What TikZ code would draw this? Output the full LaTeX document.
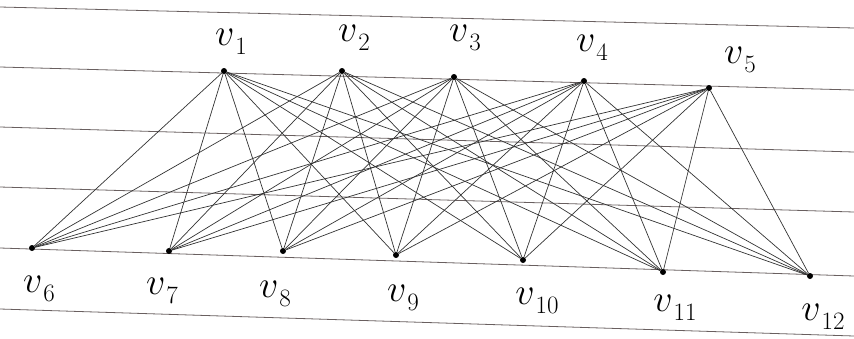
\RequirePackage{fix-cm}
\documentclass[tikz,border=0pt]{standalone}
\newcommand\vlab[1]{{\fontsize{38}{38}\selectfont$v$}\kern1pt\raisebox{-9pt}{\fontsize{25}{25}\selectfont #1}}
\begin{document}
\begin{tikzpicture}[x=1pt,y=-1pt,
  rule/.style={draw={rgb,255:red,105;green,95;blue,95},line width=0.8pt},
  vtx/.style={circle,fill=black,inner sep=0pt,minimum size=6pt},
  edge/.style={draw=black!80,line width=0.7pt},
  lab/.style={inner sep=0pt}]
\useasboundingbox (0,0) rectangle (854,338);
% ruled lines
\foreach \a/\b in {7/28,67/90,127/152,187/212,248/276,309/336}
  \draw[rule] (0,\a) -- (854,\b);
% vertices
\node[vtx] (v1) at (224,71) {};
\node[vtx] (v2) at (342,71) {};
\node[vtx] (v3) at (454,77) {};
\node[vtx] (v4) at (584,81) {};
\node[vtx] (v5) at (709,88) {};
\node[vtx] (v6) at (32,248) {};
\node[vtx] (v7) at (169,251) {};
\node[vtx] (v8) at (283,251) {};
\node[vtx] (v9) at (396,255) {};
\node[vtx] (v10) at (523,260) {};
\node[vtx] (v11) at (663,272) {};
\node[vtx] (v12) at (810,276) {};
% edges
\foreach \t in {1,...,5}
  \foreach \b in {6,...,12}
    \draw[edge] (v\t) -- (v\b);
% labels
\node[lab] (l1) at (231,42) {\vlab{1}};
\node[lab] (l2) at (354,38) {\vlab{2}};
\node[lab] (l3) at (465,38) {\vlab{3}};
\node[lab] (l4) at (592,48) {\vlab{4}};
\node[lab] (l5) at (740,60) {\vlab{5}};
\node[lab] (l6) at (39,289) {\vlab{6}};
\node[lab] (l7) at (162,291) {\vlab{7}};
\node[lab] (l8) at (275,294) {\vlab{8}};
\node[lab] (l9) at (403,298) {\vlab{9}};
\node[lab] (l10) at (537,301) {\vlab{10}};
\node[lab] (l11) at (675,308) {\vlab{11}};
\node[lab] (l12) at (823,317) {\vlab{12}};
\end{tikzpicture}
\end{document}
